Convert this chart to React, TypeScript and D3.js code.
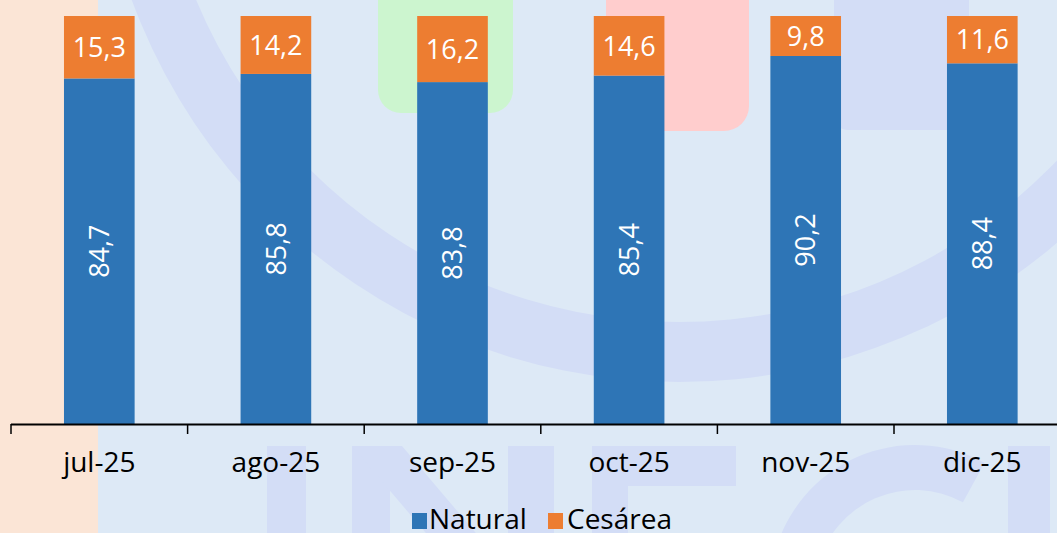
import React from "react";
import * as d3 from "d3";

const categories = ["jul-25", "ago-25", "sep-25", "oct-25", "nov-25", "dic-25"];
const natural = [84.7, 85.8, 83.8, 85.4, 90.2, 88.4];
const cesarea = [15.3, 14.2, 16.2, 14.6, 9.8, 11.6];
const seriesNames = ["Natural", "Cesárea"];
const seriesColors = ["#2e75b6", "#ed7d31"];

const W = 1057;
const H = 533;
const FONT = "'Open Sans', 'Noto Sans', sans-serif";
const WM = "#d3ddf6";

const fmt = (v: number) => v.toFixed(1).replace(".", ",");

export default function App() {
  const rows = categories.map((c, i) => ({ cat: c, Natural: natural[i], "Cesárea": cesarea[i] }));
  const stacked = d3.stack<any>().keys(seriesNames)(rows);

  const x = d3
    .scaleBand<string>()
    .domain(categories)
    .range([11, 11 + 6 * 176.6])
    .paddingInner(0.6)
    .paddingOuter(0.3);
  const y = d3.scaleLinear().domain([0, 100]).range([424, 16]);
  const step = x.step();
  const x0 = x.range()[0];

  const ring = d3.arc()({
    innerRadius: 523,
    outerRadius: 583,
    startAngle: 0,
    endAngle: Math.PI * 2,
  } as any) as string;
  const gArc = d3.arc()({
    innerRadius: 100,
    outerRadius: 145,
    startAngle: -Math.PI,
    endAngle: 0.5,
  } as any) as string;

  return (
    <svg
      width={W}
      height={H}
      style={{ position: "absolute", left: 0, top: 0, display: "block" }}
      fontFamily={FONT}
    >
      <rect x={0} y={0} width={W} height={H} fill="#dde9f6" />
      <rect x={0} y={0} width={98} height={H} fill="#fbe5d6" />
      {/* watermark */}
      <g>
        <path d={ring} transform="translate(679,-201)" fill={WM} />
        <rect x={378} y={-40} width={135} height={153} rx={23} fill="#ccf5cf" />
        <rect x={606} y={-40} width={143} height={171} rx={25} fill="#ffcdcd" />
        <rect x={834} y={-40} width={135} height={170} rx={14} fill={WM} />
        <rect x={267} y={446} width={39} height={120} fill={WM} />
        <rect x={352} y={446} width={38} height={120} fill={WM} />
        <polygon points="352,446 402,446 554,625 504,625" fill={WM} />
        <rect x={508} y={446} width={46} height={120} fill={WM} />
        <rect x={592} y={446} width={36} height={120} fill={WM} />
        <rect x={592} y={446} width={144} height={40} fill={WM} />
        <path d={gArc} transform="translate(915,590)" fill={WM} />
        <rect x={1008} y={446} width={42} height={120} fill={WM} />
      </g>
      {/* bars */}
      {stacked.map((s, si) => (
        <g key={s.key} fill={seriesColors[si]}>
          {s.map((d, i) => (
            <rect
              key={i}
              x={x(categories[i])}
              y={y(d[1])}
              width={x.bandwidth()}
              height={y(d[0]) - y(d[1])}
            />
          ))}
        </g>
      ))}
      {/* labels */}
      {stacked.map((s, si) =>
        s.map((d, i) => {
          const cx = (x(categories[i]) as number) + x.bandwidth() / 2;
          const cy = (y(d[0]) + y(d[1])) / 2;
          const v = d[1] - d[0];
          return si === 0 ? (
            <text
              key={`${si}-${i}`}
              transform={`translate(${cx},${cy}) rotate(-90)`}
              textAnchor="middle"
              dy="0.36em"
              fill="#ffffff"
              fontSize={27}
            >
              {fmt(v)}
            </text>
          ) : (
            <text
              key={`${si}-${i}`}
              x={cx}
              y={cy}
              textAnchor="middle"
              dy="0.36em"
              fill="#ffffff"
              fontSize={27}
            >
              {fmt(v)}
            </text>
          );
        })
      )}
      {/* axis */}
      <line x1={x0} x2={W + 20} y1={424.5} y2={424.5} stroke="#000" strokeWidth={2} />
      {d3.range(categories.length + 1).map((i) => (
        <line
          key={i}
          x1={x0 + i * step}
          x2={x0 + i * step}
          y1={424}
          y2={434}
          stroke="#000"
          strokeWidth={1.5}
        />
      ))}
      {categories.map((c) => (
        <text
          key={c}
          x={(x(c) as number) + x.bandwidth() / 2}
          y={472}
          textAnchor="middle"
          fontSize={28}
          fill="#000"
        >
          {c}
        </text>
      ))}
      {/* legend */}
      <g>
        <rect x={412} y={513} width={15} height={16} fill={seriesColors[0]} />
        <text x={429} y={529} fontSize={28} fill="#000">
          {seriesNames[0]}
        </text>
        <rect x={548} y={513} width={15} height={16} fill={seriesColors[1]} />
        <text x={567} y={529} fontSize={28} fill="#000">
          {seriesNames[1]}
        </text>
      </g>
    </svg>
  );
}
